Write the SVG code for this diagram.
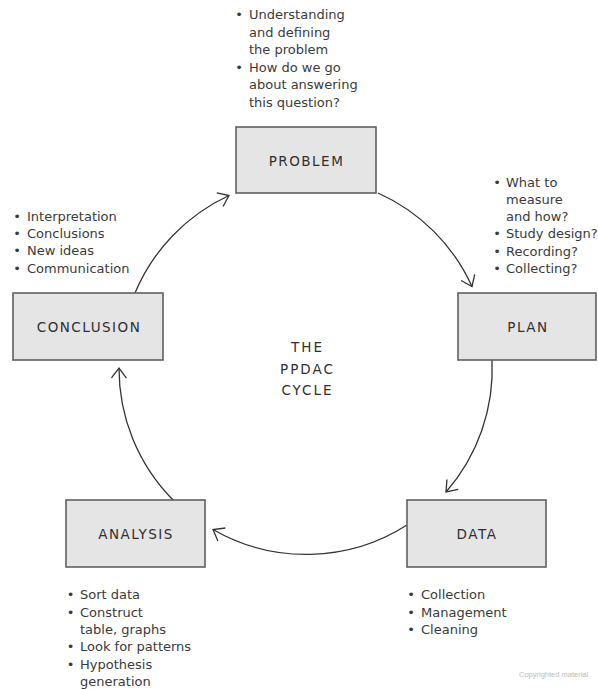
<svg xmlns="http://www.w3.org/2000/svg" width="598" height="689" viewBox="0 0 598 689">
<defs>
<style>
.box{fill:#e5e5e5;stroke:#5f5f5f;stroke-width:1.6}
.lbl{font-family:"DejaVu Sans",sans-serif;font-size:13.5px;fill:#2f2f2f;text-anchor:middle;letter-spacing:1.5px}
.ttl{font-family:"DejaVu Sans",sans-serif;font-size:13.5px;fill:#2f2f2f;text-anchor:middle;letter-spacing:2px}
.t{font-family:"DejaVu Sans",sans-serif;font-size:13px;fill:#3a3a3a}
.b{font-family:"DejaVu Sans",sans-serif;font-size:13px;fill:#3a3a3a;text-anchor:middle}
.arc{fill:none;stroke:#333;stroke-width:1.3;marker-end:url(#ah)}
.cp{font-family:"Liberation Sans",sans-serif;font-size:7.5px;fill:#bbbbbb}
</style>
<marker id="ah" markerUnits="userSpaceOnUse" markerWidth="24" markerHeight="24" viewBox="-12 -12 24 24" refX="0" refY="0" orient="auto">
<path d="M-10,-7.5 L0,0 L-10,7.5" fill="none" stroke="#333" stroke-width="1.3"/>
</marker>
</defs>
<rect width="598" height="689" fill="#ffffff"/>

<g id="connectors">
<path class="arc" d="M135,293 A187,187 0 0 1 229,195.5"/>
<path class="arc" d="M378,193 A187,187 0 0 1 472,286.5"/>
<path class="arc" d="M492,360 A187,187 0 0 1 446,492"/>
<path class="arc" d="M407,525 A187,187 0 0 1 213,529.5"/>
<path class="arc" d="M173,500 A187,187 0 0 1 119,368"/>
</g>

<g id="problem">
<rect class="box" x="236" y="127" width="140" height="66"/>
<text class="lbl" x="306.5" y="165.5">PROBLEM</text>
</g>
<g id="plan">
<rect class="box" x="458" y="293" width="138" height="67"/>
<text class="lbl" x="528" y="332">PLAN</text>
</g>
<g id="data">
<rect class="box" x="407" y="500" width="139" height="67"/>
<text class="lbl" x="477" y="539">DATA</text>
</g>
<g id="analysis">
<rect class="box" x="66" y="500" width="139" height="67"/>
<text class="lbl" x="136" y="539">ANALYSIS</text>
</g>
<g id="conclusion">
<rect class="box" x="13" y="293" width="150" height="67"/>
<text class="lbl" x="89" y="332">CONCLUSION</text>
</g>

<g id="center-title">
<text class="ttl" x="307.5" y="352">THE</text>
<text class="ttl" x="307.5" y="373.5">PPDAC</text>
<text class="ttl" x="307.5" y="395">CYCLE</text>
</g>

<g id="problem-notes">
<text class="b" x="239" y="19">•</text>
<text class="t" x="249" y="19">Understanding</text>
<text class="t" x="249" y="36.5">and defining</text>
<text class="t" x="249" y="54">the problem</text>
<text class="b" x="239" y="71.5">•</text>
<text class="t" x="249" y="71.5">How do we go</text>
<text class="t" x="249" y="89">about answering</text>
<text class="t" x="249" y="106.5">this question?</text>
</g>

<g id="plan-notes">
<text class="b" x="497" y="186.5">•</text>
<text class="t" x="506" y="186.5">What to</text>
<text class="t" x="506" y="203.5">measure</text>
<text class="t" x="506" y="221">and how?</text>
<text class="b" x="497" y="238">•</text>
<text class="t" x="506" y="238">Study design?</text>
<text class="b" x="497" y="255.5">•</text>
<text class="t" x="506" y="255.5">Recording?</text>
<text class="b" x="497" y="272.5">•</text>
<text class="t" x="506" y="272.5">Collecting?</text>
</g>

<g id="conclusion-notes">
<text class="b" x="17" y="220.5">•</text>
<text class="t" x="27" y="220.5">Interpretation</text>
<text class="b" x="17" y="238">•</text>
<text class="t" x="27" y="238">Conclusions</text>
<text class="b" x="17" y="255">•</text>
<text class="t" x="27" y="255">New ideas</text>
<text class="b" x="17" y="272.5">•</text>
<text class="t" x="27" y="272.5">Communication</text>
</g>

<g id="analysis-notes">
<text class="b" x="70.5" y="599">•</text>
<text class="t" x="80" y="599">Sort data</text>
<text class="b" x="70.5" y="616.5">•</text>
<text class="t" x="80" y="616.5">Construct</text>
<text class="t" x="80" y="634">table, graphs</text>
<text class="b" x="70.5" y="651">•</text>
<text class="t" x="80" y="651">Look for patterns</text>
<text class="b" x="70.5" y="668.5">•</text>
<text class="t" x="80" y="668.5">Hypothesis</text>
<text class="t" x="80" y="685.5">generation</text>
</g>

<g id="data-notes">
<text class="b" x="411" y="599">•</text>
<text class="t" x="421" y="599">Collection</text>
<text class="b" x="411" y="616.5">•</text>
<text class="t" x="421" y="616.5">Management</text>
<text class="b" x="411" y="634">•</text>
<text class="t" x="421" y="634">Cleaning</text>
</g>

<text class="cp" x="519" y="677">Copyrighted material</text>
</svg>
